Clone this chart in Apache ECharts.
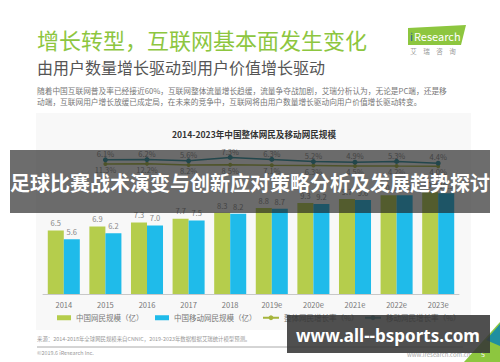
<!DOCTYPE html>
<html><head><meta charset="utf-8">
<script src="https://cdn.jsdelivr.net/npm/echarts@6/dist/echarts.min.js"></script>
<style>html,body{margin:0;padding:0;background:#fff}#c{width:500px;height:362px}</style>
</head><body><div id="c"></div>
<script>
const categories = ['2014','2015','2016','2017','2018','2019e','2020e','2021e','2022e','2023e'];
const netUsers = [6.5,6.9,7.3,7.7,8.3,8.8,9.3,9.7,10.1,10.4];
const mobileUsers = [5.6,6.2,7.0,7.5,8.2,8.7,9.2,9.6,10.1,10.3];
const overallGrowth = [null,11.3,12.2,8.2,8.5,7.1,6.3,4.5,4.2,4.0];
const mobileGrowth = [null,6.1,6.2,5.6,7.3,6.3,5.2,4.9,5.3,4.4];
const seriesNames = ['中国网民规模（亿）','中国移动网民规模（亿）','整体网民增长率（%）','移动网民增长率（%）'];
const slideTitle = '增长转型，互联网基本面发生变化';
const slideSubtitle = '由用户数量增长驱动到用户价值增长驱动';
const bodyLines = ['随着中国互联网普及率已经接近60%，互联网整体流量增长趋缓，流量争夺战加剧，艾瑞分析认为，无论是PC端，还是移',
  '动端，互联网用户增长放缓已成定局，在未来的竞争中，互联网将由用户数量增长驱动向用户价值增长驱动转变。'];
const chartTitle = '2014-2023年中国整体网民及移动网民规模';
const sourceText = '来源：2014-2018年全球网民规模来自CNNIC，2019-2023年数据根据艾瑞统计模型预测。';
const copyrightText = '©2019.6 iResearch Inc.';
const siteText = 'www.iresearch.com.cn';
const bannerText = '足球比赛战术演变与创新应对策略分析及发展趋势探讨';
const watermarkText = 'www.all--bsports.com';

const FONT = '"Noto Sans CJK SC", "Noto Sans", sans-serif';
const GREEN = '#b5cd4c', BLUE = '#1fbbea', OLIVE = '#a6b53c', TEAL = '#2b8f9e';
const oneDec = p => Number(p.value).toFixed(1);
const pct = p => Number(p.value).toFixed(1) + '%';

const chart = echarts.init(document.getElementById('c'), null, {renderer: 'svg'});
const legendBase = {top: 314, itemGap: 0, textStyle: {fontSize: 7.5, color: '#777', fontFamily: FONT}, padding: 0};
chart.setOption({
  animation: false,
  textStyle: {fontFamily: FONT},
  grid: [
    {left: 43, width: 416, top: 157, height: 137},
    {left: 43, width: 416, top: 140, height: 40}
  ],
  xAxis: [
    {type: 'category', gridIndex: 0, data: categories,
     axisLine: {lineStyle: {color: '#c8c8c8'}}, axisTick: {show: false},
     axisLabel: {color: '#777', fontSize: 7.5, margin: 7, fontFamily: FONT}},
    {type: 'category', gridIndex: 1, data: categories, show: false}
  ],
  yAxis: [
    {type: 'value', gridIndex: 0, min: 0, max: 14, show: false, splitLine: {show: false}},
    {type: 'value', gridIndex: 1, min: -4, max: 16, show: false, splitLine: {show: false}},
    {type: 'value', gridIndex: 1, min: -42, max: 91, show: false, splitLine: {show: false}}
  ],
  legend: [
    Object.assign({left: 57, data: [seriesNames[0]], itemWidth: 14, itemHeight: 5, icon: 'rect'}, legendBase),
    Object.assign({left: 155, data: [seriesNames[1]], itemWidth: 14, itemHeight: 5, icon: 'rect'}, legendBase),
    Object.assign({left: 262, data: [seriesNames[2]], itemWidth: 16, itemHeight: 6}, legendBase),
    Object.assign({left: 364, data: [seriesNames[3]], itemWidth: 16, itemHeight: 6}, legendBase)
  ],
  series: [
    {name: seriesNames[0], type: 'bar', xAxisIndex: 0, yAxisIndex: 0, data: netUsers,
     barGap: '0%', barCategoryGap: '23%', itemStyle: {color: GREEN},
     label: {show: true, position: 'top', distance: 4, fontSize: 7.5, color: '#888', fontFamily: FONT, formatter: oneDec}},
    {name: seriesNames[1], type: 'bar', xAxisIndex: 0, yAxisIndex: 0, data: mobileUsers,
     barGap: '0%', barCategoryGap: '23%', itemStyle: {color: BLUE},
     label: {show: true, position: 'top', distance: 4, fontSize: 7.5, color: '#888', fontFamily: FONT, formatter: oneDec}},
    {name: seriesNames[2], type: 'line', xAxisIndex: 1, yAxisIndex: 2, data: overallGrowth,
     symbol: 'circle', symbolSize: 4, itemStyle: {color: OLIVE}, lineStyle: {color: OLIVE, width: 1.5},
     clip: false, z: 3,
     label: {show: true, position: 'bottom', distance: 0, fontSize: 7.5, color: '#888', formatter: pct, fontFamily: FONT}},
    {name: seriesNames[3], type: 'line', xAxisIndex: 1, yAxisIndex: 1, data: mobileGrowth,
     symbol: 'circle', symbolSize: 5, itemStyle: {color: TEAL}, lineStyle: {color: TEAL, width: 1.5},
     clip: false, z: 4,
     label: {show: true, position: 'top', distance: 0, fontSize: 7.5, color: '#888', formatter: pct, fontFamily: FONT}}
  ],
  graphic: [
    {type: 'rect', z: -10, shape: {x: 36, y: 113, width: 435, height: 217}, style: {fill: '#f8f8f8'}},
    {type: 'text', z: 10, style: {text: slideTitle, x: 37, y: 39, fill: '#8dc63f', fontSize: 22, fontFamily: FONT, textAlign: 'left', textVerticalAlign: 'middle'}},
    {type: 'text', z: 10, style: {text: slideSubtitle, x: 37, y: 67, fill: '#555', fontSize: 16, fontFamily: FONT, textAlign: 'left', textVerticalAlign: 'middle'}},
    {type: 'text', z: 10, style: {text: bodyLines[0], x: 37, y: 90, fill: '#777', fontSize: 7.7, fontFamily: FONT, textAlign: 'left', textVerticalAlign: 'middle'}},
    {type: 'text', z: 10, style: {text: bodyLines[1], x: 37, y: 101, fill: '#777', fontSize: 7.7, fontFamily: FONT, textAlign: 'left', textVerticalAlign: 'middle'}},
    {type: 'polygon', z: 10, shape: {points: [[408, 28], [466, 25], [461, 45], [408, 45]]}, style: {fill: '#8dc63f'}},
    {type: 'text', z: 11, style: {text: 'i', x: 410, y: 36, fill: '#2a5fa5', fontSize: 11, fontFamily: FONT, textAlign: 'left', textVerticalAlign: 'middle'}},
    {type: 'text', z: 11, style: {text: 'Research', x: 414, y: 36, fill: '#fff', fontSize: 11, fontFamily: FONT, textAlign: 'left', textVerticalAlign: 'middle'}},
    {type: 'text', z: 10, style: {text: '艾　瑞　咨　询', x: 433, y: 51, fill: '#999', fontSize: 6.5, fontFamily: FONT, textAlign: 'center', textVerticalAlign: 'middle'}},
    {type: 'text', z: 10, style: {text: chartTitle, x: 254, y: 134, fill: '#333', fontSize: 8.6, fontWeight: 'bold', fontFamily: FONT, textAlign: 'center', textVerticalAlign: 'middle'}},
    {type: 'text', z: 10, style: {text: sourceText, x: 37, y: 339, fill: '#999', fontSize: 5.4, fontFamily: FONT, textAlign: 'left', textVerticalAlign: 'middle'}},
    {type: 'line', z: 10, shape: {x1: 37, y1: 347, x2: 463, y2: 347}, style: {stroke: '#aaa', lineWidth: 1}},
    {type: 'text', z: 10, style: {text: copyrightText, x: 37, y: 353, fill: '#999', fontSize: 5.4, fontFamily: FONT, textAlign: 'left', textVerticalAlign: 'middle'}},
    {type: 'text', z: 10, style: {text: siteText, x: 407, y: 354, fill: '#aaa', fontSize: 6, fontFamily: FONT, textAlign: 'left', textVerticalAlign: 'middle'}},
    {type: 'polygon', z: 10, shape: {points: [[464, 362], [500, 322], [500, 362]]}, style: {fill: '#8dc63f'}},
    {type: 'polygon', z: 11, shape: {points: [[486, 340], [500, 324], [500, 346]]}, style: {fill: '#1f8fa0'}},
    {type: 'text', z: 12, style: {text: '5', x: 483, y: 354, fill: '#fff', fontSize: 7, fontFamily: FONT, textAlign: 'center', textVerticalAlign: 'middle'}},
    {type: 'rect', z: 100, shape: {x: 10, y: 150, width: 480, height: 63}, style: {fill: 'rgba(30,30,30,0.65)'}},
    {type: 'text', z: 101, style: {text: bannerText, x: 250, y: 182, fill: '#fff', fontSize: 20, fontWeight: 'bold', fontFamily: FONT, textAlign: 'center', textVerticalAlign: 'middle'}},
    {type: 'rect', z: 100, shape: {x: 287, y: 315, width: 203, height: 38}, style: {fill: 'rgba(55,55,55,0.88)'}},
    {type: 'text', z: 101, style: {text: watermarkText, x: 388, y: 335, fill: '#fff', fontSize: 17, fontWeight: 'bold', fontFamily: '"Noto Sans", "Open Sans", sans-serif', textAlign: 'center', textVerticalAlign: 'middle'}}
  ]
});
</script></body></html>
